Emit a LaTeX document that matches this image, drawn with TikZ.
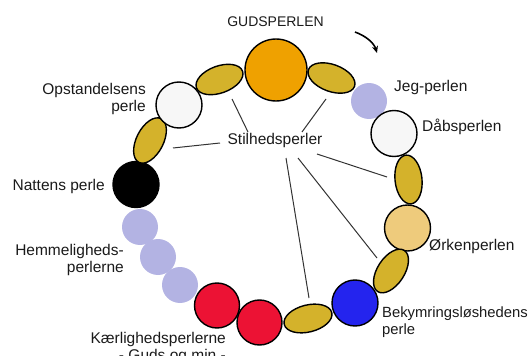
\documentclass[tikz,border=0pt]{standalone}
\usepackage{fontspec}
\setmainfont{Liberation Sans}
\usetikzlibrary{shapes.geometric,arrows.meta}
\definecolor{gold}{HTML}{EFA100}
\definecolor{mustard}{HTML}{D4B22B}
\definecolor{lav}{HTML}{B3B3E3}
\definecolor{pearl}{HTML}{F7F7F7}
\definecolor{sand}{HTML}{EECB7C}
\definecolor{bluep}{HTML}{2424EE}
\definecolor{redp}{HTML}{EC1234}
\definecolor{txt}{HTML}{1A1A1A}
\definecolor{linec}{HTML}{333333}
\begin{document}
\begin{tikzpicture}[x=1pt,y=-1pt,
  bead/.style={circle,draw=black,line width=1.4pt,inner sep=0pt,minimum size=#1},
  soft/.style={circle,fill=lav,inner sep=0pt,minimum size=36pt},
  still/.style={ellipse,draw=black,line width=1.4pt,fill=mustard,inner sep=0pt,minimum width=49pt,minimum height=27pt},
  lbl/.style={font=\fontsize{15.5}{17}\selectfont,text=txt,inner sep=0pt},
  link/.style={draw=linec,line width=1pt}]
\useasboundingbox (0,0) rectangle (531,356);
% beads
\node[bead=62pt,fill=gold] (gud) at (276,70) {};
\node[still,rotate=20] (s1) at (219.5,79.5) {};
\node[still,rotate=-20] (s2) at (331.5,78) {};
\node[soft] (jeg) at (369,101) {};
\node[bead=46pt,fill=pearl] (daab) at (394,133.5) {};
\node[still,rotate=96] (s3) at (408.5,179.5) {};
\node[bead=46pt,fill=sand] (ork) at (407.5,228) {};
\node[still,rotate=57] (s4) at (391,271) {};
\node[bead=46pt,fill=bluep] (bek) at (355,303) {};
\node[still,rotate=14] (s5) at (308,318.5) {};
\node[bead=45pt,fill=redp] (k2) at (259.5,322.5) {};
\node[bead=45pt,fill=redp] (k1) at (217,305.5) {};
\node[soft] (h3) at (180,285) {};
\node[soft] (h2) at (158,257) {};
\node[soft] (h1) at (140,227) {};
\node[bead=46pt,fill=black] (nat) at (136,184.5) {};
\node[still,rotate=63] (s6) at (150,140.5) {};
\node[bead=46pt,fill=pearl] (opst) at (179,105) {};
% labels
\node[lbl,font=\fontsize{14}{16}\selectfont] (gudl) at (275.5,22) {GUDSPERLEN};
\node[lbl,anchor=west] (jegl) at (394,87) {Jeg-perlen};
\node[lbl,anchor=west] (daabl) at (422,127) {Dåbsperlen};
\node[lbl,anchor=west] (orkl) at (429,246) {Ørkenperlen};
\node[lbl,font=\fontsize{14.8}{17}\selectfont,anchor=west,align=left] (bekl) at (382,322.5) {Bekymringsløshedens\\perle};
\node[lbl,anchor=east,align=right] (opstl) at (146,98.5) {Opstandelsens\\perle};
\node[lbl,anchor=east] (natl) at (105,186) {Nattens perle};
\node[lbl,anchor=east,align=right] (heml) at (124,259.5) {Hemmeligheds-\\perlerne};
\node[lbl,anchor=east,align=right] (kaerl) at (226,347.5) {Kærlighedsperlerne\\- Guds og min -};
\node[lbl] (stil) at (275,140) {Stilhedsperler};
% pointer lines
\coordinate (p1a) at (232,99);  \coordinate (p1b) at (248,132);
\coordinate (p2a) at (326,99);  \coordinate (p2b) at (302,132);
\coordinate (p3a) at (220,143); \coordinate (p3b) at (173,148);
\coordinate (p4a) at (317,154); \coordinate (p4b) at (387,177);
\coordinate (p5a) at (298,158); \coordinate (p5b) at (377,258);
\coordinate (p6a) at (286,158); \coordinate (p6b) at (309,298);
\draw[link] (p1b) -- (p1a);
\draw[link] (p2b) -- (p2a);
\draw[link] (p3a) -- (p3b);
\draw[link] (p4a) -- (p4b);
\draw[link] (p5a) -- (p5b);
\draw[link] (p6a) -- (p6b);
% direction arrow
\coordinate (arA) at (355,32);
\coordinate (arB) at (377,53);
\draw[line width=1.6pt,-{Stealth[length=7pt,width=6pt]}] (arA) .. controls (366,36) and (374,43) .. (arB);
\end{tikzpicture}
\end{document}
